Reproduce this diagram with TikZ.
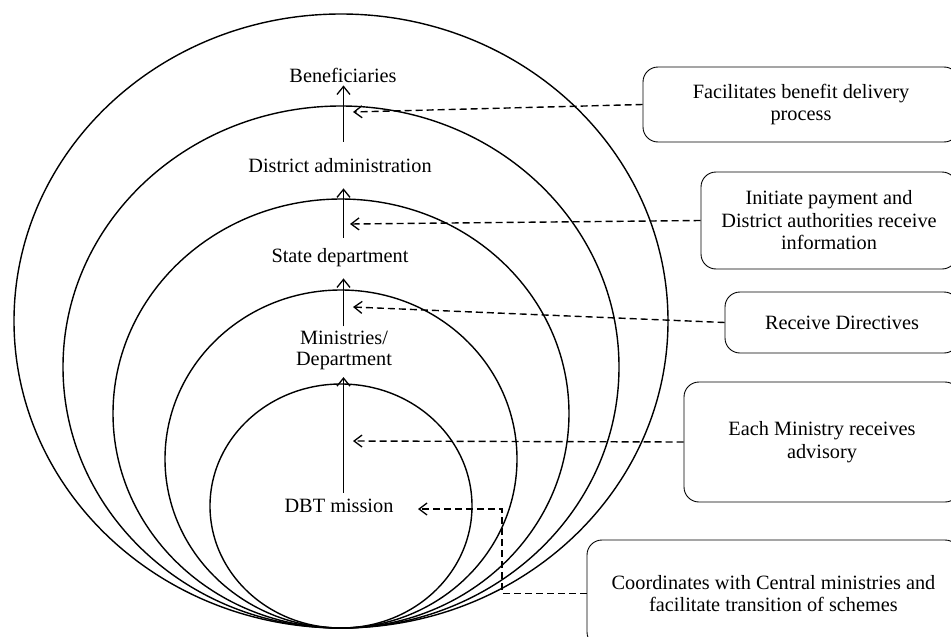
\documentclass[tikz,border=0pt]{standalone}
\usepackage{fontspec}
\setmainfont{Liberation Serif}
\usetikzlibrary{arrows.meta}

\begin{document}
\begin{tikzpicture}[x=1pt,y=-1pt,
  ring/.style={draw, line width=1.4pt},
  lbl/.style={inner sep=0pt, align=center, font=\fontsize{20.3}{21}\selectfont},
  card/.style={draw, line width=0.9pt, rounded corners=15pt, inner sep=0pt,
    align=center, font=\fontsize{20.3}{22.5}\selectfont},
  up/.style={line width=1.4pt, -{Straight Barb[length=8pt,width=13pt,line width=1.3pt]}},
  link/.style={line width=1.4pt, dash pattern=on 7pt off 4pt,
    -{Straight Barb[length=8pt,width=12pt,line width=1.3pt]}}
]
\useasboundingbox (0,0) rectangle (951,637);
\clip (0,0) rectangle (951,637);

% nested rings, all touching at the bottom
\draw[ring] (341,321)   ellipse [x radius=327, y radius=307];
\draw[ring] (341,367)   ellipse [x radius=278, y radius=261];
\draw[ring] (341,413.5) ellipse [x radius=228, y radius=214.5];
\draw[ring] (341,459)   ellipse [x radius=176, y radius=169];
\draw[ring] (341,506)   ellipse [x radius=131, y radius=122];

% level labels
\node[lbl] (ben)   at (343,75)  {Beneficiaries};
\node[lbl] (dist)  at (340,166) {District administration};
\node[lbl] (state) at (340,258) {State department};
\node[lbl] (min)   at (344,350) {Ministries/\\Department};
\node[lbl] (dbt)   at (339,506) {DBT mission};

% upward flow along the common axis
\coordinate (ax) at (343.5,0);
\draw[up, shorten <=6pt,  shorten >=7.5pt] (dbt.north -| ax)   -- (min.south -| ax);
\draw[up, shorten <=4pt,  shorten >=11pt]  (min.north -| ax)   -- (state.south -| ax);
\draw[up, shorten <=11pt, shorten >=15pt]  (state.north -| ax) -- (dist.south -| ax);
\draw[up, shorten <=17pt, shorten >=3pt]   (dist.north -| ax)  -- (ben.south -| ax);

% role descriptions
\node[card, minimum width=316pt, minimum height=75pt]  (c1) at (801,104.5)
  {Facilitates benefit delivery\\process};
\node[card, minimum width=256pt, minimum height=97pt]  (c2) at (829,220.5)
  {Initiate payment and\\District authorities receive\\information};
\node[card, minimum width=234pt, minimum height=61pt]  (c3) at (842,322.5)
  {Receive Directives};
\node[card, minimum width=276pt, minimum height=120pt] (c4) at (822,442)
  {Each Ministry receives\\advisory};
\node[card, minimum width=373pt, minimum height=107pt] (c5) at (773.5,593.5)
  {Coordinates with Central ministries and\\facilitate transition of schemes};

% pointers from the descriptions into the rings
\coordinate (p1) at (353,112);
\coordinate (p2) at (350,224);
\coordinate (p3) at (353,307);
\coordinate (p4) at (353,441);
\coordinate (bend) at (502,509);
\coordinate (p5) at (418,509);
\draw[link] (c1.west) -- (p1);
\draw[link] (c2.west) -- (p2);
\draw[link] (c3.west) -- (p3);
\draw[link] (c4.west) -- (p4);
\draw[link] (c5.west) -| (bend) -- (p5);
\end{tikzpicture}
\end{document}
